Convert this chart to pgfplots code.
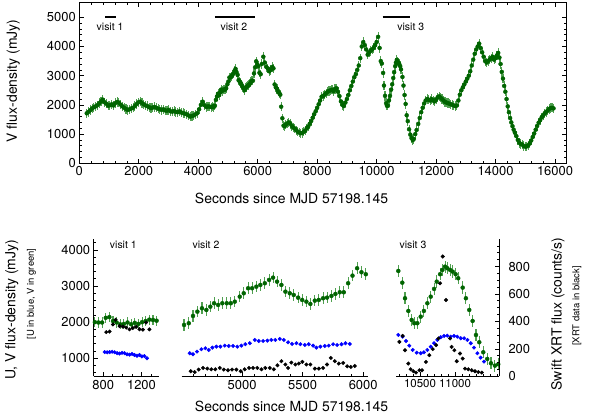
\documentclass[border=0pt]{standalone}
\usepackage{pgfplots}
\pgfplotsset{compat=1.18}
\usepackage{fontspec}
\setmainfont{TeX Gyre Heros}
\definecolor{vgreen}{RGB}{0,100,0}
\definecolor{errgreen}{RGB}{80,160,80}
\definecolor{ublue}{RGB}{0,0,255}
\pgfplotsset{
  base/.style={scale only axis, clip=false,
    /pgf/number format/assume math mode=true, /pgf/number format/1000 sep={},
    scaled ticks=false, tick align=inside,
    ticklabel style={font=\fontsize{13}{15}\selectfont},
    major tick length=4.5bp, minor tick length=2.5bp,
    axis line style={line width=0.8pt}, every tick/.style={black, line width=0.7pt}},
  vstyle/.style={only marks, mark=*, mark size=2pt, color=vgreen,
    error bars/.cd, y dir=both, y fixed=#1, error mark=none,
    error bar style={errgreen, line width=1.1pt}},
  ustyle/.style={only marks, mark=*, mark size=1.8pt, color=ublue},
  xstyle/.style={only marks, mark=*, mark size=1.8pt, color=black},
}
\begin{document}
\begin{tikzpicture}
\useasboundingbox (0,0) rectangle (592bp,415bp);
% ---------------- top panel ----------------
\begin{axis}[base, at={(79.3bp,251.7bp)}, anchor=south west,
  width=486.7bp, height=160.6bp,
  xmin=0, xmax=16370, ymin=0, ymax=5500,
  xtick={0,2000,...,16000}, minor x tick num=4,
  ytick={0,1000,...,5000}, minor y tick num=4]
\addplot[vstyle=160] table {
250 1712
310 1760
370 1820
430 1880
490 1920
550 1950
610 1990
670 2060
730 2120
790 2180
850 2090
910 2040
970 1970
1030 1990
1090 2020
1150 1980
1210 2060
1270 2100
1330 2080
1390 2010
1450 1950
1510 1900
1570 1860
1630 1830
1690 1850
1750 1880
1810 1900
1870 1960
1930 2030
1990 2090
2050 2110
2110 2060
2170 2020
2230 1980
2290 1960
2350 1920
2410 1890
2470 1910
2530 1930
2590 1900
2650 1870
2710 1850
2770 1830
2830 1850
2890 1810
2950 1800
3010 1830
3070 1780
3130 1770
3190 1790
3250 1760
3310 1750
3370 1780
3430 1740
3490 1720
3550 1700
3610 1680
3670 1640
3730 1600
3790 1620
3850 1640
3910 1680
3970 1720
4030 1850
4090 2000
4150 2110
4210 1990
4270 1930
4330 1950
4390 1940
4450 1920
4490 1950
4521 1922
4560 1970
4595 2172
4631 2291
4669 2385
4705 2338
4738 2429
4769 2523
4802 2476
4837 2523
4874 2523
4907 2523
4940 2568
4981 2706
5014 2800
5050 2939
5083 2939
5118 2983
5151 3030
5188 3078
5223 3169
5256 3233
5289 3122
5325 3030
5358 2845
5394 2800
5427 2753
5463 2679
5496 2615
5531 2568
5564 2504
5601 2596
5634 2615
5669 2662
5702 2679
5738 2726
5771 2781
5807 2828
5840 2828
5876 3078
5912 3288
5950 3493
5986 3382
6022 3327
6060 3100
6100 3050
6140 3400
6190 3650
6240 3450
6290 3300
6340 3250
6390 3150
6440 3200
6490 3300
6530 3250
6570 2700
6610 2600
6650 2550
6690 2450
6730 2400
6760 2350
6790 1938
6830 1541
6870 1290
6910 1270
6950 1330
7000 1370
7050 1400
7100 1350
7150 1280
7200 1220
7250 1190
7300 1130
7350 1080
7400 1050
7450 1030
7500 1040
7550 1080
7600 1120
7650 1200
7700 1260
7750 1350
7800 1450
7850 1560
7900 1680
7950 1780
8000 1900
8050 2020
8100 2150
8150 2280
8200 2300
8250 2350
8300 2400
8350 2450
8400 2480
8450 2500
8500 2520
8550 2470
8600 2540
8650 2570
8700 2450
8750 2300
8800 2120
8850 2000
8900 1960
8950 2080
9000 2200
9050 2340
9100 2500
9150 2650
9200 2800
9250 2950
9300 3050
9350 3200
9400 3350
9450 3600
9500 4000
9550 4150
9600 4050
9650 3900
9700 3720
9750 3800
9800 3850
9850 3900
9900 3950
9950 4050
10000 4150
10050 4330
10100 3950
10140 3500
10175 3418
10218 3094
10247 2662
10283 2310
10319 2061
10347 1970
10380 1970
10416 2152
10451 2310
10488 2523
10524 2706
10560 2920
10589 3122
10625 3327
10650 3446
10679 3537
10703 3493
10733 3446
10761 3399
10793 3327
10821 3216
10869 2956
10904 2662
10940 2338
10976 2033
11012 1645
11048 1443
11091 1166
11134 981
11174 862
11217 795
11252 834
11300 1000
11345 1140
11400 1350
11450 1550
11500 1750
11550 1900
11600 2050
11650 2150
11700 2200
11750 2180
11800 2150
11850 2200
11900 2150
11950 2120
12000 2180
12050 2250
12100 2290
12150 2250
12200 2200
12250 2150
12300 2100
12350 2080
12400 2060
12450 2040
12500 2020
12550 2000
12600 1980
12650 1960
12700 1980
12750 2150
12800 2350
12850 2500
12900 2600
12950 2700
13000 2800
13050 2900
13100 3000
13150 3150
13200 3350
13250 3550
13300 3750
13350 3900
13400 4000
13450 4100
13500 3950
13550 3800
13600 3650
13650 3500
13700 3450
13750 3500
13800 3550
13850 3600
13900 3650
13950 3550
14000 3600
14050 3700
14090 3780
14130 3620
14170 3400
14210 3130
14250 2900
14290 2650
14330 2450
14370 2200
14410 1950
14450 1750
14490 1550
14530 1400
14570 1270
14610 1150
14650 1050
14700 930
14750 800
14800 700
14850 660
14900 640
14950 590
15000 570
15050 580
15100 620
15150 680
15200 780
15250 900
15300 1020
15350 1150
15400 1280
15450 1390
15500 1480
15550 1570
15600 1640
15650 1700
15700 1760
15750 1800
15800 1860
15850 1890
15900 1900
15950 1880
};
\addplot[black, line width=2pt] coordinates {(870,5000) (1250,5000)};
\addplot[black, line width=2pt] coordinates {(4560,5000) (5910,5000)};
\addplot[black, line width=2pt] coordinates {(10200,5000) (11120,5000)};
\node[font=\fontsize{10.5}{12}\selectfont] at (axis cs:1035,4670) {visit 1};
\node[font=\fontsize{10.5}{12}\selectfont] at (axis cs:5200,4670) {visit 2};
\node[font=\fontsize{10.5}{12}\selectfont] at (axis cs:11150,4670) {visit 3};
\end{axis}
% ---------------- bottom panel 1 ----------------
\begin{axis}[base, at={(93.7bp,38.7bp)}, anchor=south west,
  width=65bp, height=137.2bp,
  xmin=700, xmax=1380, ymin=500, ymax=4300,
  axis x line*=bottom, axis y line*=left,
  xtick={800,1200}, minor xtick={900,1000,1100,1300},
  ytick={1000,2000,3000,4000}, minor ytick={600,800,...,4200}]
\addplot[vstyle=140] table {
712 2000
750 1990
788 1990
826 2120
864 2140
902 2030
940 1990
978 1940
1016 1950
1054 1990
1092 1940
1130 1980
1168 1950
1206 2000
1244 2030
1282 2070
1320 2060
1358 2040
};
\addplot[ustyle] table {
815 1170
841 1165
867 1170
893 1180
919 1165
945 1140
971 1130
997 1150
1023 1140
1049 1110
1075 1100
1101 1120
1127 1090
1153 1070
1179 1090
1205 1050
1231 1060
1257 1000
};
\node[font=\fontsize{10.5}{12}\selectfont] at (axis cs:1010,4140) {visit 1};
\end{axis}
\begin{axis}[base, at={(93.7bp,38.7bp)}, anchor=south west,
  width=65bp, height=137.2bp, hide axis,
  xmin=700, xmax=1380, ymin=0, ymax=1000]
\addplot[xstyle] table {
831 322
866 326
901 378
929 412
971 366
1005 362
1040 355
1075 342
1109 352
1144 360
1179 343
1214 340
1248 392
1283 342
};
\end{axis}
% ---------------- bottom panel 2 ----------------
\begin{axis}[base, at={(181.5bp,38.7bp)}, anchor=south west,
  width=186.5bp, height=137.2bp,
  xmin=4500, xmax=6040, ymin=500, ymax=4300,
  axis x line*=bottom, axis y line=none,
  xtick={5000,5500,6000}, minor xtick={4600,4700,...,6000}]
\addplot[vstyle=160] table {
4521 1922
4560 1970
4595 2172
4631 2291
4669 2385
4705 2338
4738 2429
4769 2523
4802 2476
4837 2523
4874 2523
4907 2523
4940 2568
4981 2706
5014 2800
5050 2939
5083 2939
5118 2983
5151 3030
5188 3078
5223 3169
5256 3233
5289 3122
5325 3030
5358 2845
5394 2800
5427 2753
5463 2679
5496 2615
5531 2568
5564 2504
5601 2596
5634 2615
5669 2662
5702 2679
5738 2726
5771 2781
5807 2828
5840 2828
5876 3078
5912 3288
5950 3493
5986 3382
6022 3327
};
\addplot[ustyle] table {
4568 1139
4595 1111
4628 1183
4664 1249
4697 1277
4725 1230
4755 1294
4788 1321
4821 1321
4857 1349
4890 1340
4926 1340
4961 1321
4994 1349
5027 1388
5064 1416
5105 1507
5138 1479
5174 1479
5209 1488
5242 1507
5275 1507
5312 1535
5345 1507
5380 1443
5413 1396
5449 1416
5482 1388
5518 1368
5551 1388
5587 1349
5614 1294
5647 1321
5683 1340
5716 1349
5752 1388
5785 1368
5821 1388
5854 1416
5890 1396
};
\node[font=\fontsize{10.5}{12}\selectfont] at (axis cs:4702,4140) {visit 2};
\end{axis}
\begin{axis}[base, at={(181.5bp,38.7bp)}, anchor=south west,
  width=186.5bp, height=137.2bp, hide axis,
  xmin=4500, xmax=6040, ymin=0, ymax=1000]
\addplot[xstyle] table {
4576 37
4609 31
4642 49
4678 61
4713 56
4746 51
4779 51
4816 61
4849 49
4884 44
4917 49
4953 49
4989 37
5022 51
5058 61
5091 61
5126 61
5160 51
5192 61
5229 61
5262 51
5292 80
5325 110
5358 86
5380 61
5407 100
5440 86
5469 93
5498 105
5531 86
5564 86
5601 56
5634 56
5669 61
5702 86
5733 134
5766 110
5799 93
5835 97
5868 73
5898 68
5931 75
};
\end{axis}
% ---------------- bottom panel 3 ----------------
\begin{axis}[base, at={(396bp,38.7bp)}, anchor=south west,
  width=103bp, height=137.2bp,
  xmin=10157, xmax=11629, ymin=500, ymax=4300,
  axis x line*=bottom, axis y line=none,
  xticklabel style={font=\fontsize{11.5}{13}\selectfont},
  xtick={10500,11000}, minor xtick={10200,10300,...,11600}]
\addplot[vstyle=170] table {
10190 3418
10247 3094
10286 2662
10333 2310
10381 2061
10418 1970
10462 1970
10510 2152
10556 2310
10605 2523
10653 2706
10701 2920
10739 3122
10787 3327
10820 3446
10858 3537
10890 3493
10930 3446
10967 3399
11009 3327
11046 3216
11110 2956
11156 2662
11204 2338
11252 2033
11300 1645
11347 1443
11404 1166
11461 981
11514 862
11571 795
11618 834
};
\addplot[ustyle] table {
10190 1645
10252 1598
10300 1479
10347 1349
10396 1230
10453 1155
10510 1139
10556 1166
10605 1230
10653 1321
10701 1416
10747 1507
10796 1582
10844 1618
10890 1626
10939 1598
10987 1618
11033 1598
11082 1554
11130 1554
11178 1507
11225 1416
11272 1294
11320 1139
11367 1017
11415 906
};
\node[font=\fontsize{10.5}{12}\selectfont] at (axis cs:10400,4140) {visit 3};
\end{axis}
\begin{axis}[base, at={(396bp,38.7bp)}, anchor=south west,
  width=103bp, height=137.2bp,
  xmin=10157, xmax=11629, ymin=0, ymax=1000,
  axis x line=none, axis y line*=right,
  ytick={0,200,...,800}, minor ytick={50,100,...,950},
  yticklabel style={xshift=6bp}]
\addplot[xstyle] table {
10205 251
10252 295
10286 190
10333 93
10366 51
10405 37
10443 27
10491 44
10529 44
10585 105
10633 154
10682 198
10730 227
10763 276
10787 678
10825 873
10872 556
10930 276
10952 214
10991 190
11025 110
11072 166
11110 129
11143 56
11191 51
11239 44
11286 37
11334 31
11383 27
};
\end{axis}
% ---------------- labels ----------------
\node[font=\fontsize{14}{16}\selectfont] at (291.5bp,217bp) {Seconds since MJD 57198.145};
\node[font=\fontsize{14}{16}\selectfont] at (291.5bp,8.3bp) {Seconds since MJD 57198.145};
\node[font=\fontsize{14}{16}\selectfont, rotate=90] at (13.3bp,334bp) {V flux-density (mJy)};
\node[font=\fontsize{14}{16}\selectfont, rotate=90] at (11.7bp,105bp) {U, V flux-density (mJy)};
\node[font=\fontsize{9.5}{11}\selectfont, rotate=90] at (31.5bp,121bp) {[U in blue, V in green]};
\node[font=\fontsize{14}{16}\selectfont, rotate=90] at (558bp,101bp) {Swift XRT flux (counts/s)};
\node[font=\fontsize{9.5}{11}\selectfont, rotate=90] at (577bp,109bp) {[XRT data in black]};
\end{tikzpicture}
\end{document}
